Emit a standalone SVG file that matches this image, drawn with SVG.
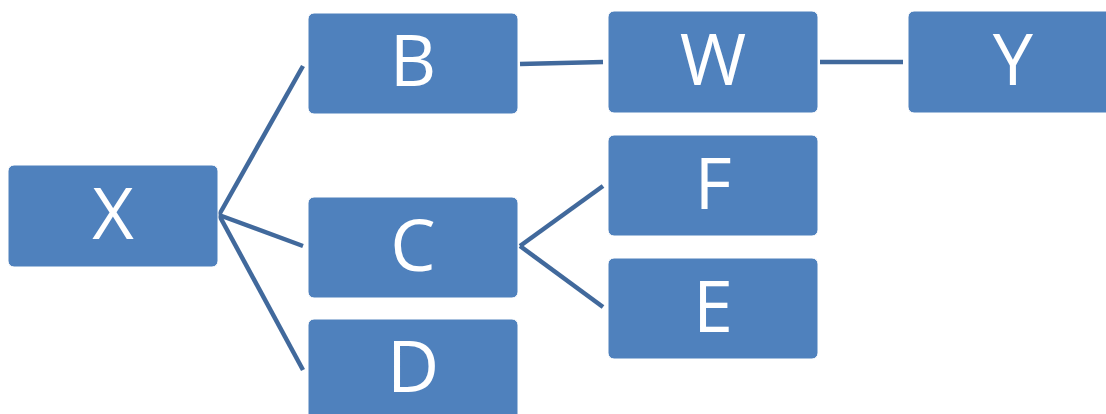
<svg xmlns="http://www.w3.org/2000/svg" width="1106" height="414" viewBox="0 0 1106 414">
  <style>
    .box { fill: #4f81bd; stroke: #ffffff; stroke-width: 1; }
    .lbl { fill: #ffffff; font-family: "Open Sans", "Liberation Sans", sans-serif; font-size: 72px; text-anchor: middle; }
    .link { stroke: #41699c; stroke-width: 4.5; fill: none; }
  </style>
  <rect width="1106" height="414" fill="#ffffff"/>
  <g id="connectors">
    <line class="link" x1="219" y1="215" x2="303" y2="66"/>
    <line class="link" x1="219" y1="215" x2="303" y2="246"/>
    <line class="link" x1="219" y1="215" x2="303" y2="370"/>
    <line class="link" x1="520" y1="64" x2="603" y2="62"/>
    <line class="link" x1="820" y1="62" x2="903" y2="62"/>
    <line class="link" x1="520" y1="246" x2="603" y2="186"/>
    <line class="link" x1="520" y1="246" x2="603" y2="307"/>
  </g>
  <g id="node-X">
    <rect class="box" x="8" y="165" width="210" height="102" rx="6"/>
    <text class="lbl" x="113" y="239">X</text>
  </g>
  <g id="node-B">
    <rect class="box" x="308" y="13" width="210" height="101" rx="6"/>
    <text class="lbl" x="413" y="86">B</text>
  </g>
  <g id="node-C">
    <rect class="box" x="308" y="197" width="210" height="101" rx="6"/>
    <text class="lbl" x="413" y="271">C</text>
  </g>
  <g id="node-D">
    <rect class="box" x="308" y="319" width="210" height="110" rx="6"/>
    <text class="lbl" x="413" y="392">D</text>
  </g>
  <g id="node-W">
    <rect class="box" x="608" y="11" width="210" height="102" rx="6"/>
    <text class="lbl" x="713" y="85">W</text>
  </g>
  <g id="node-F">
    <rect class="box" x="608" y="135" width="210" height="101" rx="6"/>
    <text class="lbl" x="713" y="209">F</text>
  </g>
  <g id="node-E">
    <rect class="box" x="608" y="258" width="210" height="101" rx="6"/>
    <text class="lbl" x="713" y="332">E</text>
  </g>
  <g id="node-Y">
    <rect class="box" x="908" y="11" width="210" height="102" rx="6"/>
    <text class="lbl" x="1013" y="85">Y</text>
  </g>
</svg>
